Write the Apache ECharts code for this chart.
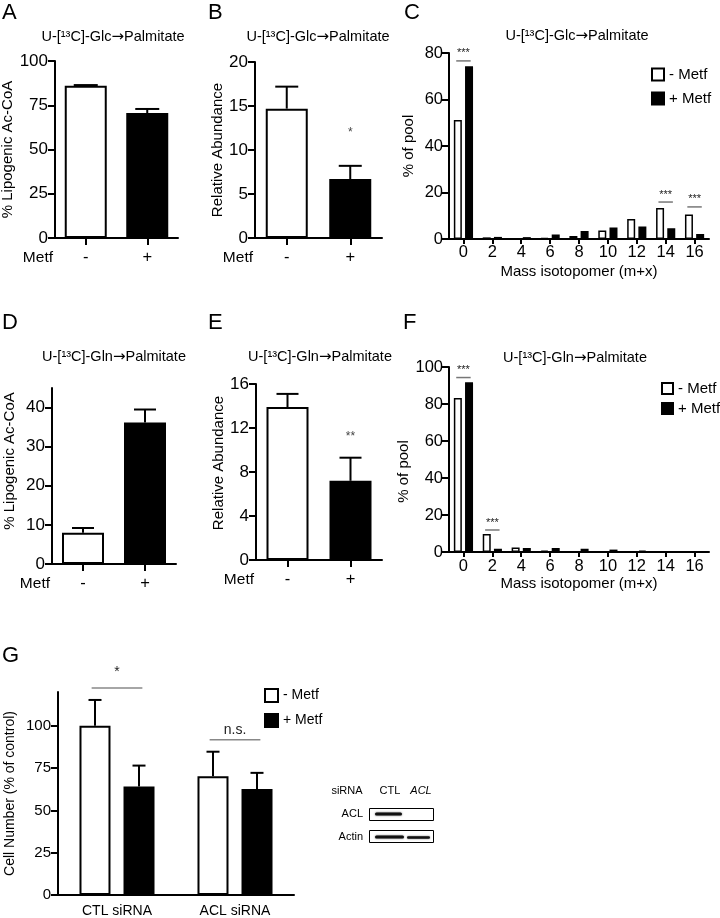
<!DOCTYPE html>
<html><head><meta charset="utf-8">
<script src="https://cdn.jsdelivr.net/npm/echarts@6/dist/echarts.min.js"></script>
<style>html,body{margin:0;padding:0;background:#fff}#c{width:720px;height:918px}</style>
</head><body><div id="c"></div><script>
const FONT = '"Liberation Sans", Arial, Helvetica, sans-serif';

// ---------- data ----------
const metfCats = ['-', '+'];
const metfFill = ['#ffffff', '#000000'];
// A: U-13C-Glc -> Palmitate, % lipogenic AcCoA
const glcAcoa = [86.0, 70.6];
const glcAcoaErr = [0.4, 2.3];
// B: relative abundance (Glc)
const glcAbund = [14.7, 6.7];
const glcAbundErr = [2.5, 1.5];
// C: Glc isotopomer distribution
const isoCats = ['0', '2', '4', '6', '8', '10', '12', '14', '16'];
const glcIsoMinus = [51.2, 0.7, 0.3, 0.4, 1.3, 3.7, 8.6, 13.3, 10.5];
const glcIsoPlus  = [74.3, 0.9, 0.8, 1.9, 3.4, 4.9, 5.4, 4.6, 2.1];
// D: U-13C-Gln -> Palmitate, % lipogenic AcCoA
const glnAcoa = [8.0, 36.2];
const glnAcoaErr = [1.2, 3.3];
// E: relative abundance (Gln)
const glnAbund = [13.9, 7.2];
const glnAbundErr = [1.2, 2.1];
// F: Gln isotopomer distribution
const glnIsoMinus = [83.3, 9.7, 2.5, 0.7, 0.2, 0.1, 0.1, 0.1, 0.1];
const glnIsoPlus  = [91.8, 1.8, 2.2, 2.2, 1.8, 1.3, 0.7, 0.4, 0.1];
// G: cell number
const sirnaCats = ['CTL siRNA', 'ACL siRNA'];
const cellMinus = [100, 70.2];
const cellMinusErr = [15.3, 14.5];
const cellPlus = [64.1, 62.7];
const cellPlusErr = [12.4, 9.5];
// significance annotations: [category index, value, label, gap]
const sigC = [[0, 76.6, '***', 2], [7, 15.9, '***', 2], [8, 13.8, '***', 2]];
const sigF = [[0, 94.3, '***', 2], [1, 11.9, '***', 2]];
const sigB = [[1, 12.0, '*']];
const sigE = [[1, 11.2, '**']];
const sigG = [[0, 122.4, '*', 9], [1, 91.8, 'n.s.', 3]];
const legendNames = ['- Metf', '+ Metf'];

// ---------- layout ----------
const G = [
  {left: 55, top: 61, width: 123, height: 177},   // A
  {left: 255, top: 62, width: 127, height: 176},  // B
  {left: 449, top: 53, width: 260, height: 186},  // C
  {left: 52, top: 388, width: 124, height: 176},  // D
  {left: 256, top: 384, width: 126, height: 176}, // E
  {left: 449, top: 367, width: 260, height: 185}, // F
  {left: 58, top: 692, width: 236, height: 203}   // G
];

function yAx(gi, max, interval, name, nameGap, o) {
  o = o || {};
  const tick = {show: true, length: 7, lineStyle: {color: '#000', width: 2}};
  const lab = {color: '#000', fontFamily: FONT, fontSize: o.fs || 17, margin: o.margin || 7};
  if (o.ticks) { tick.customValues = o.ticks; lab.customValues = o.ticks; }
  return {type: 'value', gridIndex: gi, min: 0, max: max, interval: interval,
    name: name, nameLocation: 'middle', nameGap: nameGap, nameRotate: 90,
    nameTextStyle: {fontFamily: FONT, fontSize: o.nfs || 15, color: '#000', padding: o.namePad || 0},
    axisLine: {show: true, lineStyle: {color: '#000', width: 2}},
    axisTick: tick, axisLabel: lab, splitLine: {show: false}};
}
function xAx(gi, cats, o) {
  o = o || {};
  return {type: 'category', gridIndex: gi, data: cats,
    name: o.name || '', nameLocation: 'middle', nameGap: o.nameGap || 25,
    nameTextStyle: {fontFamily: FONT, fontSize: 15, color: '#000'},
    axisLine: {show: true, lineStyle: {color: '#000', width: 2}},
    axisTick: {show: o.tick !== false, alignWithLabel: true, length: o.tickLen || 7, lineStyle: {color: '#000', width: 2}},
    axisLabel: {color: '#000', fontFamily: FONT, fontSize: o.fs || 16.5, margin: o.margin || 11, interval: 0},
    splitLine: {show: false}};
}
function singleBars(gi, vals) {
  return {type: 'bar', xAxisIndex: gi, yAxisIndex: gi, barWidth: 42, silent: true,
    data: vals.map((v, i) => ({value: v, itemStyle: {color: metfFill[i]}})),
    itemStyle: {borderColor: '#000', borderWidth: 2}};
}
function groupBars(gi, name, vals, fill, w, gap, bw) {
  return {type: 'bar', name: name, xAxisIndex: gi, yAxisIndex: gi, barWidth: w, barGap: gap, silent: true,
    data: vals, itemStyle: {color: fill, borderColor: '#000', borderWidth: bw}};
}
function errSeries(gi, vals, errs, offset, capW) {
  return {type: 'custom', xAxisIndex: gi, yAxisIndex: gi, silent: true, z: 5,
    data: vals.map((v, i) => [i, v, v + errs[i]]),
    renderItem: function (params, api) {
      const b = api.coord([api.value(0), api.value(1)]);
      const t = api.coord([api.value(0), api.value(2)]);
      const x = b[0] + offset, hw = capW / 2;
      return {type: 'group', children: [
        {type: 'line', shape: {x1: x, y1: b[1], x2: x, y2: t[1]}, style: {stroke: '#000', lineWidth: 2}},
        {type: 'line', shape: {x1: x - hw, y1: t[1], x2: x + hw, y2: t[1]}, style: {stroke: '#000', lineWidth: 2}}
      ]};
    }};
}
function sigSeries(gi, items, halfW, fs, lineColor, textColor) {
  return {type: 'custom', xAxisIndex: gi, yAxisIndex: gi, silent: true, clip: false, z: 6,
    data: items.map(it => [it[0], it[1]]),
    renderItem: function (params, api) {
      const it = items[params.dataIndex];
      const p = api.coord([api.value(0), api.value(1)]);
      const hw = api.size([1, 0])[0] * halfW;
      const kids = [];
      if (halfW > 0) {
        kids.push({type: 'line', shape: {x1: p[0] - hw, y1: p[1], x2: p[0] + hw, y2: p[1]},
          style: {stroke: lineColor, lineWidth: 1.5}});
        kids.push({type: 'text', x: p[0], y: p[1] - it[3],
          style: {text: it[2], align: 'center', verticalAlign: 'bottom', textAlign: 'center', textVerticalAlign: 'bottom',
            fill: textColor, font: fs + 'px ' + FONT}});
      } else {
        kids.push({type: 'text', x: p[0], y: p[1],
          style: {text: it[2], align: 'center', verticalAlign: 'middle', textAlign: 'center', textVerticalAlign: 'middle',
            fill: textColor, font: fs + 'px ' + FONT}});
      }
      return {type: 'group', children: kids};
    }};
}

// ---------- graphic decorations ----------
const graphic = [];
function txt(x, y, s, size, align, extra) {
  const st = {text: s, fill: '#000', font: (extra && extra.italic ? 'italic ' : '') + size + 'px ' + FONT,
      align: align || 'center', verticalAlign: 'middle', textAlign: align || 'center', textVerticalAlign: 'middle'};
  if (extra && extra.rich) st.rich = extra.rich;
  graphic.push({type: 'text', x: x, y: y, silent: true, style: st});
}
const panelLetters = [['A', 2, 13], ['B', 208, 13], ['C', 404, 13], ['D', 2, 323], ['E', 208, 323], ['F', 403, 323], ['G', 2, 656]];
panelLetters.forEach(p => txt(p[1], p[2], p[0], 22, 'left'));
const arrowRich = {a: {font: '15px "DejaVu Sans"', fill: '#000'}};
const titleGlc = 'U-[¹³C]-Glc{a|→}Palmitate';
const titleGln = 'U-[¹³C]-Gln{a|→}Palmitate';
[[113, 37, titleGlc], [318, 37, titleGlc], [577, 36, titleGlc], [114, 357, titleGln], [320, 357, titleGln], [575, 358, titleGln]]
  .forEach(t => txt(t[0], t[1], t[2], 14.5, 'center', {rich: arrowRich}));
// "Metf" row labels next to the -/+ axes
[0, 1, 3, 4].forEach(gi => {
  const g = G[gi];
  txt(g.left - 2, g.top + g.height + 20, 'Metf', 15.5, 'right');
});
// x-axis overhang to the left of the y-axis
G.forEach(g => {
  graphic.push({type: 'line', silent: true, shape: {x1: g.left - 7, y1: g.top + g.height, x2: g.left, y2: g.top + g.height},
    style: {stroke: '#000', lineWidth: 2}});
});
// western blot inset
txt(347, 791, 'siRNA', 11, 'center');
txt(390, 791, 'CTL', 11, 'center');
txt(421, 791, 'ACL', 11, 'center', {italic: true});
txt(363, 814, 'ACL', 11, 'right');
txt(363, 837, 'Actin', 11, 'right');
graphic.push({type: 'rect', silent: true, shape: {x: 369.5, y: 808.5, width: 64, height: 12}, style: {fill: 'none', stroke: '#000', lineWidth: 1}});
graphic.push({type: 'rect', silent: true, shape: {x: 369.5, y: 830.5, width: 64, height: 12}, style: {fill: 'none', stroke: '#000', lineWidth: 1}});
[[375, 812.6, 27, 3], [375, 835.6, 29, 3], [407, 836.2, 23, 2.6]].forEach(b => {
  graphic.push({type: 'rect', silent: true, shape: {x: b[0], y: b[1], width: b[2], height: b[3], r: 1.5},
    style: {fill: '#111', shadowBlur: 2, shadowColor: 'rgba(0,0,0,0.6)'}});
});

const option = {
  animation: false,
  backgroundColor: '#fff',
  textStyle: {fontFamily: FONT},
  grid: G.map(g => Object.assign({outerBoundsMode: 'none', containLabel: false}, g)),
  xAxis: [
    xAx(0, metfCats), xAx(1, metfCats),
    xAx(2, isoCats, {name: 'Mass isotopomer (m+x)', nameGap: 25, tickLen: 5, margin: 5}),
    xAx(3, metfCats), xAx(4, metfCats),
    xAx(5, isoCats, {name: 'Mass isotopomer (m+x)', nameGap: 22, tickLen: 5, margin: 6}),
    xAx(6, sirnaCats, {tick: false, fs: 14, margin: 9})
  ],
  yAxis: [
    yAx(0, 100, 25, '% Lipogenic Ac-CoA', 39),
    yAx(1, 20, 5, 'Relative Abundance', 25),
    yAx(2, 80, 20, '% of pool', 33, {margin: 6, fs: 16.5}),
    yAx(3, 45, 10, '% Lipogenic Ac-CoA', 35, {ticks: [0, 10, 20, 30, 40], namePad: [0, 0, 0, 30]}),
    yAx(4, 16, 4, 'Relative Abundance', 27, {namePad: [0, 0, 0, 18]}),
    yAx(5, 100, 20, '% of pool', 33, {margin: 6, fs: 16.5, namePad: [0, 24, 0, 0]}),
    yAx(6, 120, 25, 'Cell Number (% of control)', 41, {ticks: [0, 25, 50, 75, 100], fs: 15, nfs: 14})
  ],
  legend: [
    {orient: 'vertical', left: 651, top: 67, padding: 0, itemWidth: 12, itemHeight: 12, itemGap: 9, icon: 'rect',
      selectedMode: false, data: legendNames, textStyle: {fontFamily: FONT, fontSize: 15, color: '#000'}},
    {orient: 'vertical', left: 661, top: 381, padding: 0, itemWidth: 11, itemHeight: 11, itemGap: 5, icon: 'rect',
      selectedMode: false, data: legendNames, textStyle: {fontFamily: FONT, fontSize: 15, color: '#000'}},
    {orient: 'vertical', left: 264, top: 688, padding: 0, itemWidth: 13, itemHeight: 13, itemGap: 10, icon: 'rect',
      selectedMode: false, data: legendNames, textStyle: {fontFamily: FONT, fontSize: 14, color: '#000'}}
  ],
  series: [
    singleBars(0, glcAcoa), errSeries(0, glcAcoa, glcAcoaErr, 0, 24),
    singleBars(1, glcAbund), errSeries(1, glcAbund, glcAbundErr, 0, 23), sigSeries(1, sigB, 0, 12, '#666', '#444'),
    groupBars(2, legendNames[0], glcIsoMinus, '#fff', 8, '40%', 1.5),
    groupBars(2, legendNames[1], glcIsoPlus, '#000', 8, '40%', 1.5),
    sigSeries(2, sigC, 0.25, 11, '#777', '#222'),
    singleBars(3, glnAcoa), errSeries(3, glnAcoa, glnAcoaErr, 0, 22),
    singleBars(4, glnAbund), errSeries(4, glnAbund, glnAbundErr, 0, 22), sigSeries(4, sigE, 0, 12, '#666', '#444'),
    groupBars(5, legendNames[0], glnIsoMinus, '#fff', 8, '40%', 1.5),
    groupBars(5, legendNames[1], glnIsoPlus, '#000', 8, '40%', 1.5),
    sigSeries(5, sigF, 0.25, 11, '#777', '#222'),
    groupBars(6, legendNames[0], cellMinus, '#fff', 31, '42%', 2),
    groupBars(6, legendNames[1], cellPlus, '#000', 31, '42%', 2),
    errSeries(6, cellMinus, cellMinusErr, -22, 13),
    errSeries(6, cellPlus, cellPlusErr, 22, 13),
    sigSeries(6, sigG, 0.215, 14, '#888', '#222')
  ],
  graphic: graphic
};
const chart = echarts.init(document.getElementById('c'), null, {renderer: 'canvas'});
chart.setOption(option);
</script></body></html>
